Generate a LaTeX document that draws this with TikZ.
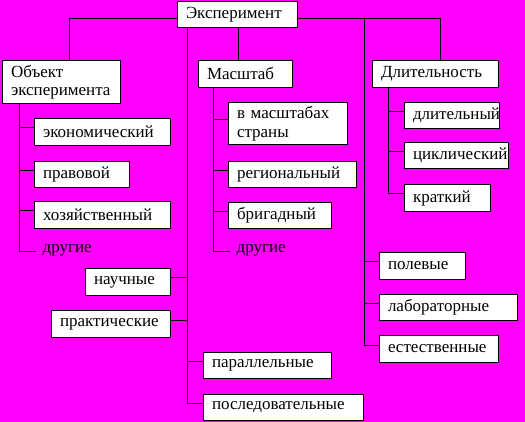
\documentclass[tikz,border=0pt]{standalone}
\usepackage{fontspec}
\setmainfont{Liberation Serif}
\definecolor{bgmag}{HTML}{FF00FF}
\pgfdeclarelayer{bg}
\pgfsetlayers{bg,main}
\tikzset{
  txt/.style={font=\rmfamily\fontsize{17}{18.5}\selectfont},
  box/.style={txt, draw=black, fill=white, line width=1pt, inner xsep=8.5pt, inner ysep=0pt,
    align=left, anchor=north west},
  plain/.style={txt, inner xsep=8.5pt, inner ysep=0pt, anchor=base west},
  conn/.style={draw=black, line width=1pt}
}
\begin{document}
\begin{tikzpicture}[x=1pt,y=-1pt]
\useasboundingbox (0,0) rectangle (525,422);
% boxes
\node[box, text width=103pt, minimum height=26pt] (eks) at (177,1) {Эксперимент};
\node[box, text width=101pt, minimum height=43pt] (obj) at (2,60) {Объект\\эксперимента};
\node[box, text width=77pt, minimum height=27pt] (mas) at (198,60) {Масштаб};
\node[box, text width=109pt, minimum height=27pt] (dlit) at (372,60) {Длительность};
\node[box, text width=119pt, minimum height=27pt] (ek) at (34,118) {экономический};
\node[box, text width=78pt, minimum height=26pt] (prav) at (34,161) {правовой};
\node[box, text width=119pt, minimum height=27pt] (hoz) at (34,201) {хозяйственный};
\node[plain] (dr1) at (34,253) {другие};
\node[box, text width=102pt, minimum height=42pt] (vms) at (228,102) {в масштабах\\страны};
\node[box, text width=111pt, minimum height=26pt] (reg) at (228,161) {региональный};
\node[box, text width=86pt, minimum height=26pt] (brig) at (228,202) {бригадный};
\node[plain] (dr2) at (228,253) {другие};
\node[box, text width=78pt, minimum height=26pt] (dl) at (404,102) {длительный};
\node[box, text width=87pt, minimum height=26pt] (cik) at (404,142) {циклический};
\node[box, text width=69pt, minimum height=27pt] (kr) at (404,184) {краткий};
\node[box, text width=69pt, minimum height=27pt] (pol) at (379,252) {полевые};
\node[box, text width=121pt, minimum height=26pt] (lab) at (379,294) {лабораторные};
\node[box, text width=102pt, minimum height=27pt] (est) at (379,335) {естественные};
\node[box, text width=68pt, minimum height=27pt] (nauch) at (85,268) {научные};
\node[box, text width=102pt, minimum height=27pt] (prak) at (51,310) {практические};
\node[box, text width=111pt, minimum height=26pt] (par) at (203,352) {параллельные};
\node[box, text width=143pt, minimum height=26pt] (posl) at (203,394) {последовательные};
% junction points
\coordinate (jt) at (364,18);
\coordinate (jc) at ([xshift=10pt]eks.south west);
\coordinate (jo) at ([xshift=17pt]obj.south west);
\coordinate (jm) at ([xshift=15pt]mas.south west);
\coordinate (jd) at ([xshift=16pt]dlit.south west);
\begin{pgfonlayer}{bg}
\fill[bgmag] (0,0) rectangle (525,422);
% top bus
\draw[conn] ([yshift=-4pt]eks.west) -| ([xshift=8pt]obj.north);
\draw[conn] ([yshift=-4pt]eks.east) -| ([xshift=5pt]dlit.north);
\draw[conn] ([xshift=1pt]eks.south) -- ([xshift=1pt]eks.south |- mas.north);
% right-middle column
\draw[conn] (jt) |- ([yshift=4pt]pol.west);
\draw[conn] (jt) |- ([yshift=4pt]lab.west);
\draw[conn] (jt) |- ([yshift=4pt]est.west);
% centre column
\draw[conn] (jc) |- ([yshift=4pt]posl.west);
\draw[conn] (jc) |- ([yshift=4pt]par.west);
\draw[conn] ([yshift=4pt]nauch.east) -| (jc);
\draw[conn] ([yshift=4pt]prak.east) -| (jc);
% object children
\draw[conn] (jo) |- ([yshift=4pt]ek.west);
\draw[conn] (jo) |- ([yshift=4pt]prav.west);
\draw[conn] (jo) |- ([yshift=4pt]hoz.west);
\draw[conn] (jo) |- ([xshift=2pt,yshift=1pt]dr1.base west);
% scale children
\draw[conn] (jm) |- ([yshift=4pt]vms.west);
\draw[conn] (jm) |- ([yshift=4pt]reg.west);
\draw[conn] (jm) |- ([yshift=4pt]brig.west);
\draw[conn] (jm) |- ([xshift=2pt,yshift=1pt]dr2.base west);
% duration children
\draw[conn] (jd) |- ([yshift=4pt]dl.west);
\draw[conn] (jd) |- ([yshift=4pt]cik.west);
\draw[conn] (jd) |- ([yshift=4pt]kr.west);
\end{pgfonlayer}
\end{tikzpicture}
\end{document}
